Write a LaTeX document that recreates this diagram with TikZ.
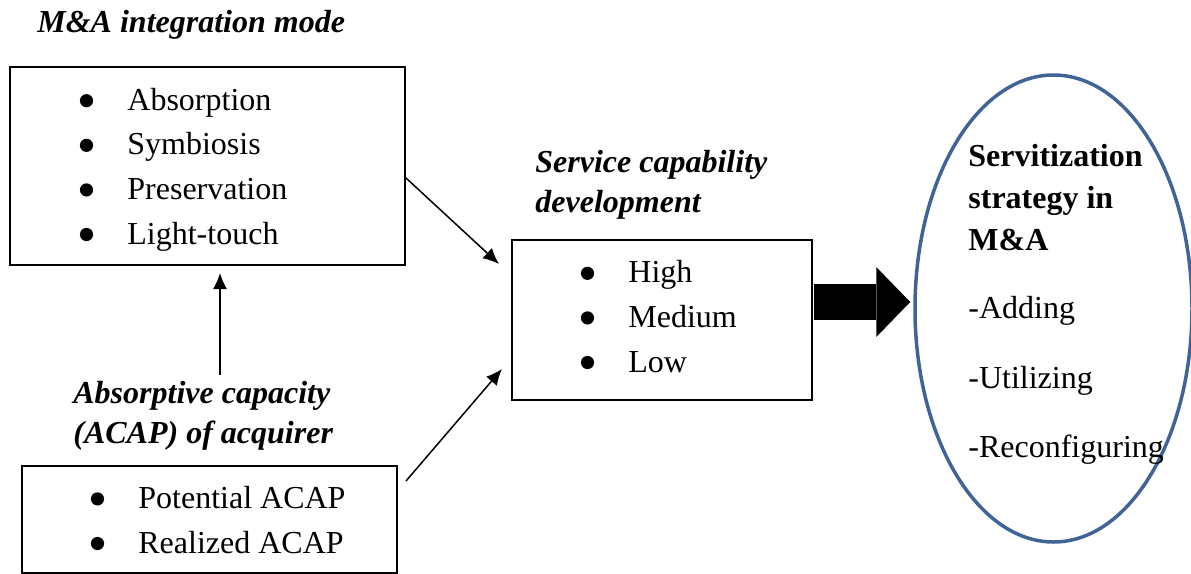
\documentclass[tikz,border=0pt]{standalone}
\usepackage{fontspec}
\setmainfont{Liberation Serif}
\usetikzlibrary{calc}
\usetikzlibrary{arrows.meta}
\usetikzlibrary{shapes.geometric}
\definecolor{ovalblue}{RGB}{64,100,150}
\newcommand{\bitem}[1]{\makebox[23.75pt][l]{\tikz[baseline=-4.75pt]\fill (0,0) circle (3.3pt);}#1}

\begin{document}
\begin{tikzpicture}[x=0.5pt,y=-0.5pt,>={Latex[length=8pt,width=7pt]},
    box/.style={draw,line width=1pt,inner sep=0pt},
    items/.style={anchor=base west,align=left,inner sep=0pt,font=\fontsize{16}{22.3}\selectfont},
    heading/.style={anchor=base west,align=left,inner sep=0pt,font=\fontsize{16}{20}\selectfont\bfseries\itshape}]
    \useasboundingbox (0,0) rectangle (1191,574);
    % left column (text nodes sit on the baseline of their last line)
    \node[heading] (modetitle) at (37,32) {M\&A integration mode};
    \node[box,minimum width=197.5pt,minimum height=99pt] (mode) at (207.5,166) {};
    \node[items] (modelist) at (79.5,244) {\bitem{Absorption}\\ \bitem{Symbiosis}\\ \bitem{Preservation}\\ \bitem{Light-touch}};
    \node[heading] (acaptitle) at (73,443) {Absorptive capacity\\(ACAP) of acquirer};
    \node[box,minimum width=187.5pt,minimum height=53.5pt] (acap) at (209.5,519.5) {};
    \node[items] (acaplist) at (90.5,553) {\bitem{Potential ACAP}\\ \bitem{Realized ACAP}};
    % middle
    \node[heading] (servtitle) at (535,212) {Service capability\\development};
    \node[box,minimum width=150pt,minimum height=80pt] (serv) at (662,320) {};
    \node[items] (servlist) at (580.5,372) {\bitem{High}\\ \bitem{Medium}\\ \bitem{Low}};
    % right
    \node[draw=ovalblue,line width=1.75pt,ellipse,minimum width=138.5pt,minimum height=233.5pt,inner sep=0pt] (strat) at (1053.5,308.5) {};
    \node[anchor=base west,align=left,inner sep=0pt,font=\fontsize{16}{21}\selectfont] (stratlist) at (968,457)
      {\textbf{Servitization}\\ \textbf{strategy in}\\ \textbf{M\&A}\\[13pt] -Adding\\[14pt] -Utilizing\\[13.5pt] -Reconfiguring};
    % connectors
    \coordinate (servin1) at (499,264); \coordinate (servin2) at (502,369);
    \coordinate (acapout) at (220,375);
    \draw[->,line width=0.75pt] ($(mode.east)+(0,12)$) -- (servin1);
    \draw[->,line width=0.75pt] ($(acap.north east)+(8,16)$) -- (servin2);
    \draw[->,line width=0.75pt] (acapout) -- ($(mode.south)+(12.5,7)$);
    \draw[line width=18pt,-{Triangle[length=17pt,width=35pt,line width=0pt]}] ($(serv.east)+(0.5,-18)$) -- ($(strat.west)+(-3,-6.5)$);
\end{tikzpicture}
\end{document}
